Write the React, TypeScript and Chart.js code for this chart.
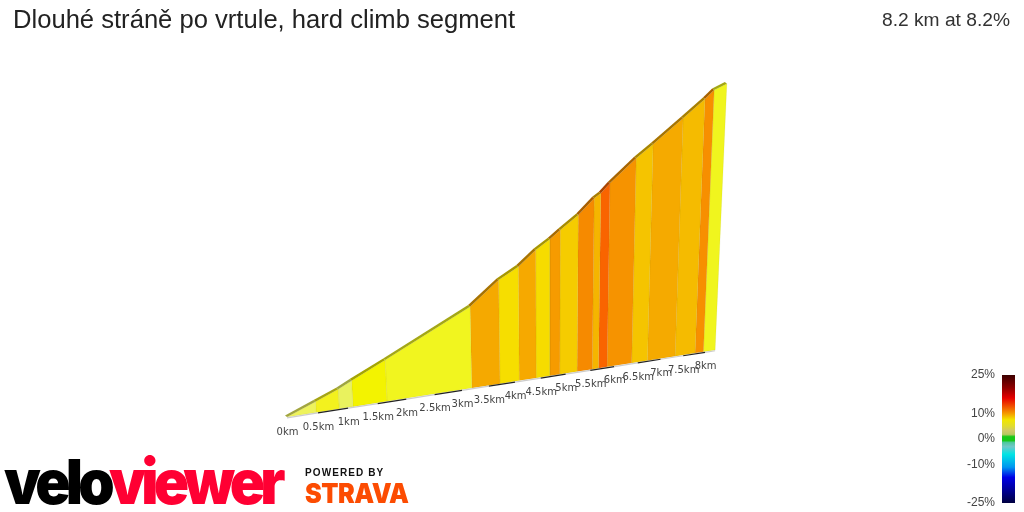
import React, { useEffect, useRef } from "react";
import { Chart, registerables } from "chart.js";

Chart.register(...registerables);

// Climb profile: boundaries of the constant-gradient stretches.
const distanceKm = [0, 0.47, 0.85, 1.08, 1.66, 3.18, 3.71, 4.08, 4.41, 4.68, 4.88, 5.23, 5.54, 5.67, 5.85, 6.37, 6.71, 7.32, 7.77, 7.96, 8.23];
const elevationM = [0, 24.8, 45.4, 60.5, 97.2, 195.5, 250.3, 276.5, 311.6, 333.6, 353.2, 384.8, 421.1, 431.6, 453.6, 508.4, 539.1, 596.9, 640.5, 661.1, 675];
const stretchColors = ["#eef35c", "#f3f11e", "#e9f25e", "#f3f300", "#f1f51f", "#f5a900", "#f6de00", "#f6a900", "#f6dc00", "#f69b00", "#f5cc00", "#f68a00", "#f5b500", "#f96400", "#f69300", "#f5c400", "#f5aa00", "#f5bb00", "#f78f00", "#f0f51e"];
const tickKm = [0, 0.5, 1, 1.5, 2, 2.5, 3, 3.5, 4, 4.5, 5, 5.5, 6, 6.5, 7, 7.5, 8];
const tickLabels = ["0km", "0.5km", "1km", "1.5km", "2km", "2.5km", "3km", "3.5km", "4km", "4.5km", "5km", "5.5km", "6km", "6.5km", "7km", "7.5km", "8km"];
const legendTicks = [25, 10, 0, -10, -25];
const legendLabels = ["25%", "10%", "0%", "-10%", "-25%"];
const legendStopPct = [25, 20, 16, 13, 10, 7.5, 5, 3.2, 1.8, 0.9, -0.6, -1.4, -3, -6, -11, -15, -20, -25];
const legendStopColors = ["#3c0000", "#8f0000", "#e60000", "#f04a00", "#f59a00", "#f2e600", "#e0dc30", "#cfc86a", "#b8c860", "#18c818", "#18c818", "#50c8a0", "#70c8c8", "#00e4e4", "#0096f0", "#0000e6", "#000096", "#000040"];

const TITLE = "Dlouhé stráně po vrtule, hard climb segment";
const SUMMARY = "8.2 km at 8.2%";

// Perspective view of the (km, metres) plane, as the original's 3D camera shows it.
const HEIGHT_W = -0.0001177;
function project(km: number, m: number, back = false) {
  const q = HEIGHT_W * m;
  const w = 1 + 0.025 * km + q;
  return {
    x: (287 + 69.9 * km + 549 * q) / w - (back ? 2 : 0),
    y: (417 + 0.6 * km + 4124 * q) / w - (back ? 1.6 : 0),
  };
}
const legendY = (pct: number) => 439 - 2.56 * pct;

function darken(hex: string, f: number) {
  const n = parseInt(hex.slice(1), 16);
  const c = [(n >> 16) & 255, (n >> 8) & 255, n & 255].map((v) => Math.round(v * f));
  return `rgb(${c[0]},${c[1]},${c[2]})`;
}

const faces = stretchColors.map((color, i) => ({
  type: "scatter" as const,
  showLine: true,
  polygon: true,
  backgroundColor: color,
  borderColor: "rgba(110,110,0,0.08)",
  borderWidth: 1,
  pointRadius: 0,
  data: [
    project(distanceKm[i], 0),
    project(distanceKm[i], elevationM[i]),
    project(distanceKm[i + 1], elevationM[i + 1]),
    project(distanceKm[i + 1], 0),
    project(distanceKm[i], 0),
  ],
}));

const road = stretchColors.map((color, i) => ({
  type: "scatter" as const,
  showLine: true,
  polygon: true,
  backgroundColor: darken(color, 0.68),
  borderColor: "rgba(0,0,0,0)",
  borderWidth: 0,
  pointRadius: 0,
  data: [
    project(distanceKm[i], elevationM[i]),
    project(distanceKm[i], elevationM[i], true),
    project(distanceKm[i + 1], elevationM[i + 1], true),
    project(distanceKm[i + 1], elevationM[i + 1]),
    project(distanceKm[i], elevationM[i]),
  ],
}));

const lastKm = distanceKm[distanceKm.length - 1];

const overlay = {
  id: "overlay",
  beforeDatasetDraw(chart: any, args: any) {
    const ds = chart.data.datasets[args.index];
    if (!ds.polygon) return;
    const pts = args.meta.data;
    const ctx = chart.ctx;
    ctx.save();
    ctx.beginPath();
    pts.forEach((p: any, i: number) => (i ? ctx.lineTo(p.x, p.y) : ctx.moveTo(p.x, p.y)));
    ctx.closePath();
    ctx.fillStyle = ds.backgroundColor;
    ctx.fill();
    ctx.restore();
  },
  afterDraw(chart: any) {
    const ctx = chart.ctx;
    const sx = chart.scales.x;
    const sy = chart.scales.y;
    ctx.save();
    ctx.textAlign = "center";
    ctx.textBaseline = "middle";
    ctx.fillStyle = "#444";
    ctx.font = '10px "DejaVu Sans"';
    tickKm.forEach((km, i) => {
      const p = project(km, 0);
      ctx.fillText(tickLabels[i], sx.getPixelForValue(p.x) + 0.5, sy.getPixelForValue(p.y) + 15);
    });
    ctx.textAlign = "right";
    ctx.fillStyle = "#444";
    ctx.font = '12px "Liberation Sans"';
    legendTicks.forEach((pct, i) => {
      ctx.fillText(legendLabels[i], sx.getPixelForValue(995), sy.getPixelForValue(legendY(pct)));
    });
    ctx.restore();
  },
};

const logoBase: React.CSSProperties = { position: "absolute", whiteSpace: "nowrap", transformOrigin: "0 0" };

export default function App() {
  const ref = useRef<HTMLCanvasElement>(null);
  useEffect(() => {
    document.body.style.margin = "0";
    const chart = new Chart(ref.current as HTMLCanvasElement, {
      type: "scatter",
      data: {
        datasets: [
          {
            showLine: true,
            pointRadius: 0,
            borderWidth: 13,
            borderCapStyle: "butt",
            data: [
              { x: 1008.5, y: legendY(legendStopPct[0]) },
              { x: 1008.5, y: legendY(legendStopPct[legendStopPct.length - 1]) },
            ],
            borderColor: (c: any) => {
              const top = legendY(legendStopPct[0]);
              const bottom = legendY(legendStopPct[legendStopPct.length - 1]);
              const g = c.chart.ctx.createLinearGradient(0, top, 0, bottom);
              legendStopPct.forEach((p, i) => g.addColorStop((legendY(p) - top) / (bottom - top), legendStopColors[i]));
              return g;
            },
          },
          {
            showLine: true,
            pointRadius: 0,
            borderWidth: 1.2,
            data: [...tickKm, lastKm].map((km) => {
              const p = project(km, 0);
              return { x: p.x, y: p.y + 0.8 };
            }),
            segment: {
              borderColor: (c: any) => (c.p0DataIndex % 2 ? "#222" : "#ccc"),
            },
          },
          ...road,
          ...faces,
        ] as any,
      },
      options: {
        responsive: false,
        animation: false,
        devicePixelRatio: 1,
        layout: { padding: 0 },
        events: [],
        plugins: { legend: { display: false }, tooltip: { enabled: false }, title: { display: false } },
        scales: {
          x: { type: "linear", min: 0, max: 1024, display: false },
          y: { type: "linear", min: 0, max: 512, reverse: true, display: false },
        },
      } as any,
      plugins: [overlay],
    });
    return () => chart.destroy();
  }, []);

  return (
    <div style={{ position: "fixed", left: 0, top: 0, width: 1024, height: 512, background: "#fff", overflow: "hidden" }}>
      <canvas ref={ref} width={1024} height={512} style={{ position: "absolute", left: 0, top: 0 }} />
      <div style={{ position: "absolute", left: 13, top: 5, font: '25.6px "Liberation Sans"', color: "#222", whiteSpace: "nowrap" }}>{TITLE}</div>
      <div style={{ position: "absolute", right: 14, top: 9, font: '19.2px "Liberation Sans"', color: "#333", whiteSpace: "nowrap" }}>{SUMMARY}</div>
      <div style={{ ...logoBase, left: 4, top: 444, font: '900 62px Inter', letterSpacing: -5, transform: "scaleX(0.94)" }}>
        <span style={{ color: "#000" }}>velo</span>
        <span style={{ color: "#ff0033" }}>viewer</span>
      </div>
      <div style={{ ...logoBase, left: 305, top: 467, font: 'bold 10px "Liberation Sans"', letterSpacing: 1.1, color: "#111" }}>POWERED BY</div>
      <div style={{ ...logoBase, left: 305, top: 477, font: '900 27px Inter', letterSpacing: -0.5, color: "#fc4c02", transform: "scaleX(0.93)" }}>STRAVA</div>
    </div>
  );
}
